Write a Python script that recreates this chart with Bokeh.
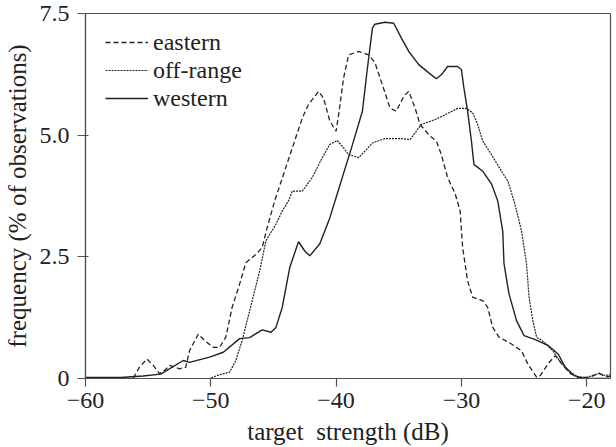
from bokeh.plotting import figure
from bokeh.models import Range1d, FixedTicker, Legend, LegendItem
from bokeh.embed import file_html
from bokeh.resources import INLINE

# ---- data ----
western_x = [-60, -57.2, -55.4, -54.0, -52.2, -51.7, -50.1, -49.0, -47.7, -46.9, -45.9, -45.2,
             -44.8, -44.3, -43.7, -43.0, -42.5, -42.1, -41.3, -40.5, -39.9, -38.7, -37.9,
             -37.5, -37.1, -36.9, -36.1, -35.4, -34.8, -34.2, -33.4, -32.6, -32.0, -31.6,
             -31.1, -30.3, -30.0, -29.8, -29.5, -29.2, -29.0, -28.3, -27.6, -27.1, -26.7,
             -26.6, -26.2, -25.6, -25.0, -24.2, -23.1, -22.3, -21.7, -21.0, -20.2, -18.1]
western_y = [0.02, 0.02, 0.05, 0.09, 0.37, 0.33, 0.44, 0.54, 0.82, 0.84, 1.0, 0.95,
             1.05, 1.46, 2.28, 2.81, 2.62, 2.52, 2.77, 3.3, 3.8, 4.8, 5.49,
             6.38, 7.2, 7.28, 7.32, 7.3, 7.0, 6.72, 6.45, 6.28, 6.16, 6.24,
             6.41, 6.41, 6.35, 5.97, 5.49, 4.88, 4.4, 4.26, 4.0, 3.65, 3.03,
             2.36, 1.74, 1.19, 0.88, 0.81, 0.68, 0.51, 0.23, 0.06, 0.0, 0.0]

eastern_x = [-60, -56.2, -55.7, -55.1, -54.6, -54.1, -53.7, -53.3, -52.5, -52.0, -51.7, -51.0,
             -50.5, -49.8, -49.3, -48.8, -48.3, -47.7, -47.2, -46.4, -45.9, -45.5, -44.9,
             -42.7, -42.2, -41.4, -41.0, -40.5, -40.0, -39.8, -39.4, -39.0, -38.2, -37.4,
             -36.9, -36.3, -35.7, -35.2, -34.6, -34.2, -33.7, -33.3, -32.5, -32.0, -31.6,
             -31.1, -30.5, -30.1, -29.9, -29.5, -29.1, -28.3, -27.9, -27.5, -27.0, -26.0,
             -25.2, -24.7, -24.0, -23.7, -23.0, -22.5, -21.9, -21.3, -20.5, -19.7, -19.0,
             -18.5, -18.1]
eastern_y = [0.0, 0.0, 0.23, 0.40, 0.27, 0.10, 0.16, 0.27, 0.20, 0.23, 0.57, 0.91,
             0.78, 0.64, 0.64, 0.85, 1.46, 1.94, 2.38, 2.55, 2.69, 3.1, 3.65,
             5.35, 5.63, 5.9, 5.76, 5.29, 5.08, 5.42, 6.18, 6.65, 6.72, 6.65,
             6.49, 6.03, 5.56, 5.49, 5.8, 5.9, 5.56, 5.22, 4.98, 4.88, 4.6,
             4.13, 3.8, 3.44, 2.69, 2.0, 1.67, 1.6, 1.46, 1.05, 0.85, 0.71,
             0.57, 0.3, 0.03, 0.06, 0.33, 0.47, 0.27, 0.10, 0.0, 0.03, 0.11,
             0.03, 0.05]

offrange_x = [-60, -50.1, -49.3, -48.5, -48.0, -47.5, -46.9, -46.1, -45.6, -44.8, -44.3,
              -43.8, -43.5, -42.7, -41.9, -41.1, -40.5, -39.9, -39.5, -39.0, -38.2, -37.7,
              -37.1, -36.1, -34.8, -34.1, -33.6, -33.2, -32.1, -31.3, -30.3, -29.6, -29.1,
              -28.7, -28.3, -27.6, -26.8, -26.3, -25.8, -25.2, -24.8, -24.6, -24.3, -24.0,
              -23.4, -22.7, -22.2, -21.5, -20.7, -19.9, -19.1, -18.5, -18.1]
offrange_y = [0.0, 0.0, 0.08, 0.13, 0.37, 0.78, 1.39, 2.21, 2.83, 3.17, 3.44,
              3.65, 3.85, 3.85, 4.13, 4.54, 4.81, 4.89, 4.77, 4.6, 4.54, 4.67,
              4.84, 4.93, 4.93, 4.91, 5.08, 5.22, 5.32, 5.42, 5.55, 5.55, 5.46,
              5.22, 4.88, 4.6, 4.26, 4.06, 3.65, 3.03, 2.35, 1.67, 1.19, 0.85,
              0.75, 0.57, 0.37, 0.16, 0.03, 0.03, 0.10, 0.06, 0.08]

x_ticks = [-60, -50, -40, -30, -20]
x_tick_labels = ["\u221260", "\u221250", "\u221240", "\u221230", "\u221220"]
y_ticks = [0, 2.5, 5.0, 7.5]
y_tick_labels = ["0", "2.5", "5.0", "7.5"]

FONT = "Liberation Serif"
INK = "#222222"
AXIS = "#505050"

p = figure(width=616, height=447, output_backend="svg", toolbar_location=None,
           x_range=Range1d(-60, -18.1), y_range=Range1d(0, 7.5),
           min_border_left=82, min_border_right=6, min_border_top=13, min_border_bottom=69)
p.grid.visible = False
p.outline_line_color = AXIS
p.outline_line_width = 1.2
p.background_fill_color = "white"
p.border_fill_color = "white"

r_e = p.line(eastern_x, eastern_y, line_color=INK, line_width=1.3, line_dash="5 3")
r_o = p.line(offrange_x, offrange_y, line_color=INK, line_width=1.2, line_dash="2 1")
r_w = p.line(western_x, western_y, line_color=INK, line_width=1.4)

xa = p.xaxis[0]
xa.ticker = FixedTicker(ticks=x_ticks)
xa.major_label_overrides = dict(zip(x_ticks, x_tick_labels))
ya = p.yaxis[0]
ya.ticker = FixedTicker(ticks=y_ticks)
ya.major_label_overrides = dict(zip(y_ticks, y_tick_labels))

for ax in (xa, ya):
    ax.axis_line_color = AXIS
    ax.axis_line_width = 1.2
    ax.major_tick_line_color = AXIS
    ax.major_tick_line_width = 1.2
    ax.minor_tick_line_color = None
    ax.major_label_text_font = FONT
    ax.major_label_text_font_size = "24px"
    ax.major_label_text_color = INK
    ax.axis_label_text_font = FONT
    ax.axis_label_text_font_size = "25px"
    ax.axis_label_text_font_style = "normal"
    ax.axis_label_text_color = INK

xa.major_tick_out = 8
xa.major_tick_in = 0
xa.major_label_standoff = 6
xa.axis_label = "target\u2002strength (dB)"
xa.axis_label_standoff = 7

ya.major_tick_out = 8
ya.major_tick_in = 3
ya.major_label_standoff = 8
ya.axis_label = "frequency (% of observations)"
ya.axis_label_standoff = 6

legend = Legend(items=[LegendItem(label="eastern", renderers=[r_e]),
                       LegendItem(label="off-range", renderers=[r_o]),
                       LegendItem(label="western", renderers=[r_w])],
                location=(20, 266), padding=0, margin=0, spacing=0,
                glyph_width=43, glyph_height=28, label_height=28,
                label_standoff=5, label_text_font=FONT, label_text_font_size="24px",
                label_text_color=INK, border_line_alpha=0, background_fill_alpha=0)
p.add_layout(legend)

open("out.html", "w").write(file_html(p, INLINE))
